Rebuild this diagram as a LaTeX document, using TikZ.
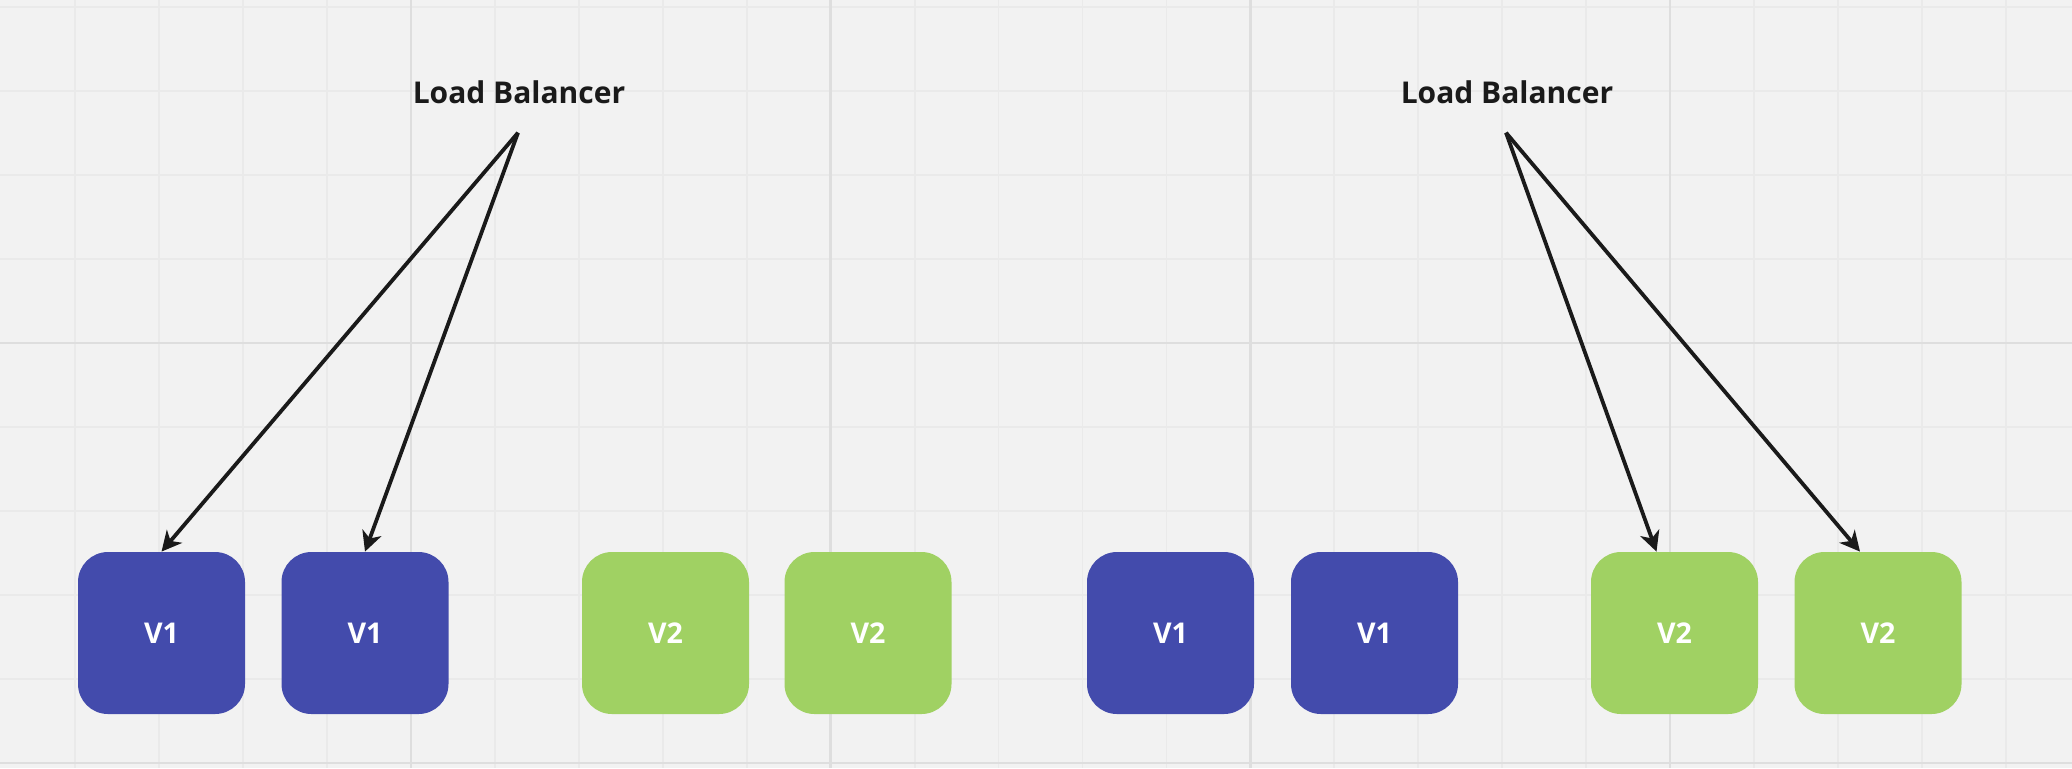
\documentclass[tikz,border=0pt]{standalone}
\usepackage{fontspec}
\setmainfont{Open Sans}
\usetikzlibrary{arrows.meta,calc}
\definecolor{bg}{HTML}{F2F2F2}
\definecolor{gridminor}{HTML}{EAEAEA}
\definecolor{gridmajor}{HTML}{DEDEDE}
\definecolor{vone}{HTML}{434BAC}
\definecolor{vtwo}{HTML}{A0D163}
\definecolor{ink}{HTML}{1A1A1A}
\begin{document}
\begin{tikzpicture}[x=0.5pt,y=-0.5pt,
  minorline/.style={gridminor,line width=0.9pt},
  majorline/.style={gridmajor,line width=1.2pt},
  box/.style={minimum width=83.5pt,minimum height=81pt,rounded corners=15pt,inner sep=0pt,
    text=white,font=\fontsize{14.3}{16}\selectfont\bfseries},
  vonebox/.style={box,fill=vone},
  vtwobox/.style={box,fill=vtwo},
  lblabel/.style={inner sep=0pt,text=ink,font=\fontsize{15}{17}\selectfont\bfseries},
  conn/.style={ink,line width=1.9pt,-{Stealth[length=10pt,width=10pt,inset=3pt]}}]
\fill[bg] (0,0) rectangle (2072,768);
\useasboundingbox (0,0) rectangle (2072,768);
\foreach \k in {0,...,23} {
  \pgfmathsetmacro\xx{75.3+83.93*\k}
  \draw[minorline] (\xx,0) -- (\xx,768);
}
\foreach \k in {0,...,9} {
  \pgfmathsetmacro\yy{7.3+83.93*\k}
  \draw[minorline] (0,\yy) -- (2072,\yy);
}
\foreach \xx in {411,830.6,1250.3,1670} {
  \draw[majorline] (\xx,0) -- (\xx,768);
}
\foreach \yy in {343,762.7} {
  \draw[majorline] (0,\yy) -- (2072,\yy);
}
\node[vonebox] (b1) at (161.5,633) {V1};
\node[vonebox] (b2) at (365,633) {V1};
\node[vtwobox] (b3) at (665.5,633) {V2};
\node[vtwobox] (b4) at (868,633) {V2};
\node[vonebox] (b5) at (1170.5,633) {V1};
\node[vonebox] (b6) at (1374.5,633) {V1};
\node[vtwobox] (b7) at (1674.5,633) {V2};
\node[vtwobox] (b8) at (1878,633) {V2};
\node[lblabel,anchor=base] (lb1) at (519,103) {Load Balancer};
\node[lblabel,anchor=base] (lb2) at (1507,103) {Load Balancer};
\coordinate (s1) at ($(lb1.south)+(-1,29)$);
\coordinate (s2) at ($(lb2.south)+(-1,29)$);
\draw[conn] (s1) -- (b1.north);
\draw[conn] (s1) -- (b2.north);
\draw[conn] (s2) -- ($(b7.north)+(-18,0)$);
\draw[conn] (s2) -- ($(b8.north)+(-18,0)$);
\end{tikzpicture}
\end{document}
